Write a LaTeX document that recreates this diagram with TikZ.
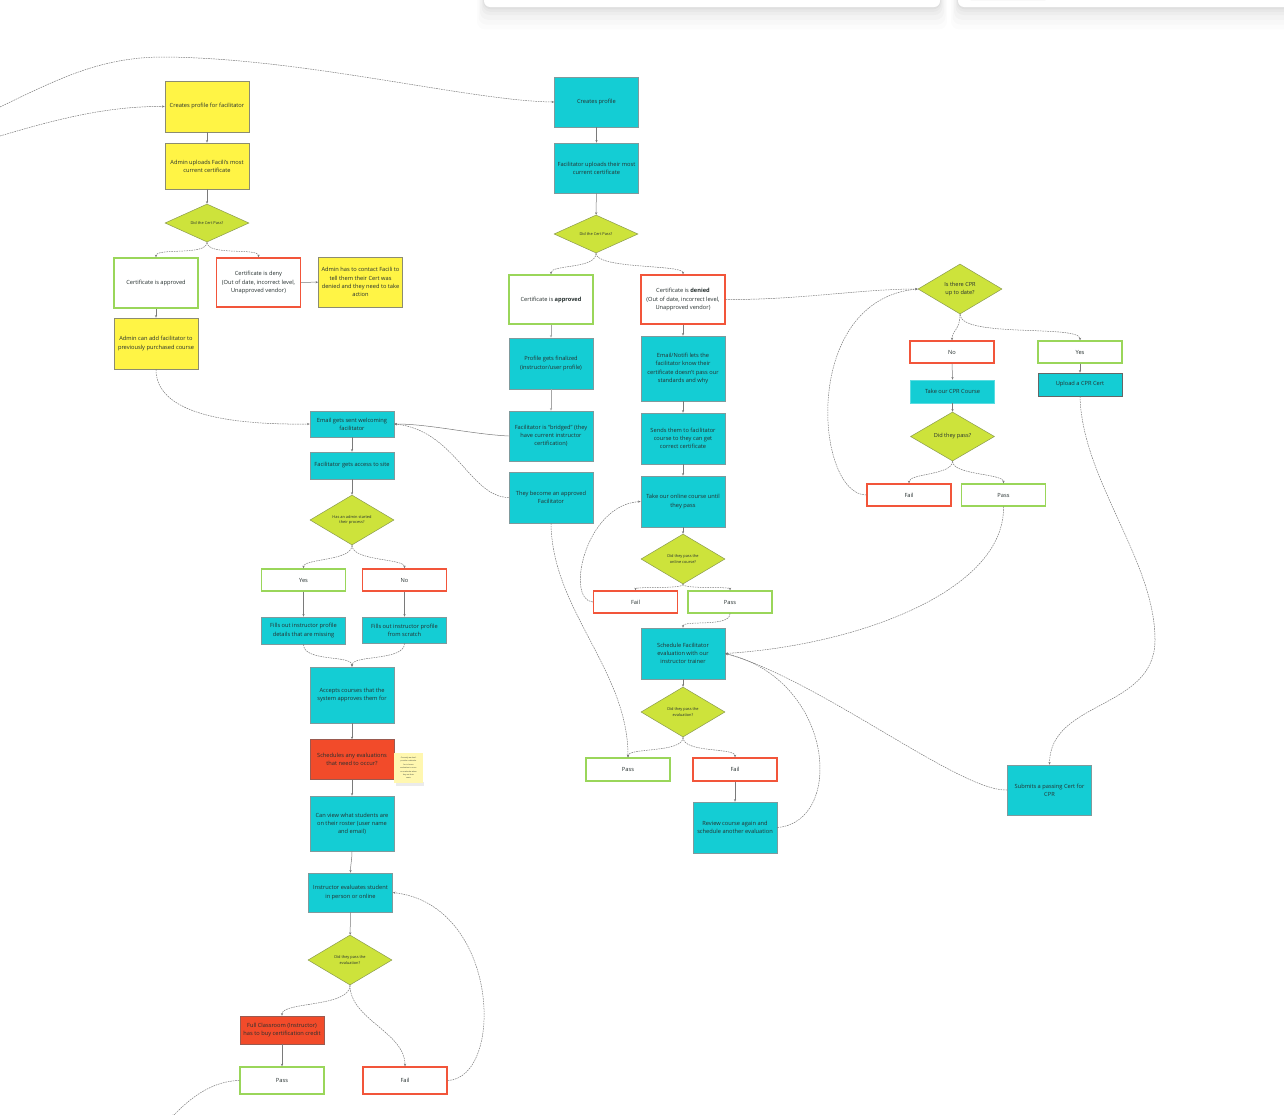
\documentclass[tikz,border=0pt]{standalone}
\usepackage{fontspec}
\setmainfont{Open Sans}
\usetikzlibrary{shapes.geometric,arrows.meta}
\definecolor{ylw}{HTML}{FFF445}
\definecolor{ybd}{HTML}{8C8C70}
\definecolor{cyn}{HTML}{14CDD4}
\definecolor{cbd}{HTML}{7F9A9C}
\definecolor{lim}{HTML}{CDE33B}
\definecolor{dbd}{HTML}{8A9A50}
\definecolor{grn}{HTML}{9AD65A}
\definecolor{redb}{HTML}{F2553A}
\definecolor{org}{HTML}{F24B2A}
\definecolor{obd}{HTML}{9A5A50}
\definecolor{txt}{HTML}{26302F}
\definecolor{lgray}{HTML}{7A7A7A}
\definecolor{note}{HTML}{FFF7B0}
\newcommand\fs{\fontsize{5.7}{8.2}\selectfont}
\newcommand\dfs{\fontsize{3.9}{5.6}\selectfont}
\newcommand\mfs{\fontsize{5.6}{8.1}\selectfont}
\tikzset{
 base/.style={rectangle, minimum width=84pt, inner sep=1pt, align=center, font=\fs, text=txt, line width=0.7pt},
 ybox/.style={base, fill=ylw, draw=ybd},
 cbox/.style={base, fill=cyn, draw=cbd},
 gbox/.style={base, fill=white, draw=grn, line width=1.35pt},
 rbox/.style={base, fill=white, draw=redb, line width=1.35pt},
 obox/.style={base, fill=org, draw=obd},
 dia/.style={diamond, aspect=1.7, inner sep=0pt, minimum width=84pt, minimum height=50pt, fill=lim, draw=dbd, line width=0.5pt, align=center, font=\dfs, text=txt},
 sarr/.style={draw=lgray, line width=0.5pt, -{Stealth[length=2.6pt,width=2.2pt]}},
 darr/.style={sarr, dash pattern=on 1.6pt off 0.9pt},
}
\begin{document}
\begin{tikzpicture}[x=1pt,y=-1pt]
\useasboundingbox (0,0) rectangle (1284,1114);
\fill[white] (0,0) rectangle (1284,1114);
% top panels with soft shadow
\foreach \k/\o in {14/0.012,11/0.015,8/0.018,5/0.022,3/0.025,1.5/0.03}{
 \fill[black,opacity=\o,rounded corners=8pt] (484-\k*0.5,-20) rectangle (940+\k*0.5,7+\k*1.6);
 \fill[black,opacity=\o,rounded corners=8pt] (958-\k*0.5,-20) rectangle (1300,7+\k*1.6);
}
\fill[white,rounded corners=6pt] (484,-20) rectangle (940,7);
\fill[white,rounded corners=6pt] (958,-20) rectangle (1300,7);
\draw[black!6,line width=0.5pt,rounded corners=5pt] (966,-10) -- (966,0) -- (1050,0) -- (1055,-10);

% ---------- left column ----------
\node[ybox, minimum height=51pt] (A1) at (207,106.5) {Creates profile for facilitator};
\node[ybox, minimum height=46pt] (A2) at (207,166) {Admin uploads Facili's most\\current certificate};
\node[dia, minimum height=38pt] (D1) at (207,223) {Did the Cert Pass?};
\node[gbox, minimum height=50pt] (A3) at (156,283) {Certificate is approved};
\node[rbox, minimum height=49pt] (A4) at (258.5,282.5) {Certificate is deny\\(Out of date, incorrect level,\\Unapproved vendor)};
\node[ybox, minimum height=50pt] (A5) at (360.5,282) {Admin has to contact Facili to\\tell them their Cert was\\denied and they need to take\\action};
\node[ybox, minimum height=51pt] (A6) at (156,343.5) {Admin can add facilitator to\\previously purchased course};

% ---------- middle-left column ----------
\node[cbox, minimum height=26pt] (B1) at (352,424) {Email gets sent welcoming\\facilitator};
\node[cbox, minimum height=27pt] (B2) at (352,465.5) {Facilitator gets access to site};
\node[dia] (D2) at (352,520) {Has an admin started\\their process?};
\node[gbox, minimum height=22pt] (B3) at (303.5,580) {Yes};
\node[rbox, minimum height=22pt] (B4) at (404.5,580) {No};
\node[cbox, minimum height=27pt] (B5) at (303.5,630.5) {Fills out instructor profile\\details that are missing};
\node[cbox, minimum height=26pt] (B6) at (404.5,630) {Fills out instructor profile\\from scratch};
\node[cbox, minimum height=56pt] (B7) at (352,695) {Accepts courses that the\\system approves them for};
\node[obox, minimum height=40pt] (B8) at (352,759.5) {Schedules any evaluations\\that need to occur?};
\fill[black,opacity=0.08] (396,782) rectangle (424,786);
\node[rectangle, fill=note, minimum width=29pt, minimum height=30pt, inner sep=0.5pt, align=center, font=\fontsize{1.8}{3.4}\selectfont, text=txt] (N1) at (408.5,768) {Currently we don't\\provide a calendar\\for in house\\evaluation to occur\\on a calendar when\\they set their\\seats};
\node[cbox, minimum height=55pt] (B9) at (352,823.5) {Can view what students are\\on their roster (user name\\and email)};
\node[cbox, minimum height=39pt] (B10) at (350.5,892.5) {Instructor evaluates student\\in person or online};
\node[dia] (D3) at (350,960) {Did they pass the\\evaluation?};
\node[obox, minimum height=28pt] (B11) at (282,1030) {Full Classroom (Instructor)\\has to buy certification credit};
\node[gbox, minimum height=27pt] (B12) at (282,1080.5) {Pass};
\node[rbox, minimum height=27pt] (B13) at (405,1080.5) {Fail};

% ---------- middle column ----------
\node[cbox, minimum height=50pt] (C1) at (596.5,102) {Creates profile};
\node[cbox, minimum height=50pt] (C2) at (596.5,168) {Facilitator uploads their most\\current certificate};
\node[dia, minimum height=38pt] (D4) at (596,234) {Did the Cert Pass?};
\node[gbox, minimum height=49pt] (C3) at (551,299.5) {Certificate is \textbf{approved}};
\node[rbox, minimum height=49pt] (C4) at (683,299.5) {Certificate is \textbf{denied}\\(Out of date, incorrect level,\\Unapproved vendor)};
\node[cbox, minimum height=51pt] (C5) at (551,363.5) {Profile gets finalized\\(instructor/user profile)};
\node[cbox, minimum height=50pt] (C6) at (551,436) {Facilitator is “bridged” (they\\have current instructor\\certification)};
\node[cbox, minimum height=51pt] (C7) at (551,497.5) {They become an approved\\Facilitator};
\node[cbox, minimum height=65pt] (C8) at (683,368.5) {Email/Notifi lets the\\facilitator know their\\certificate doesn't pass our\\standards and why};
\node[cbox, minimum height=51pt] (C9) at (683,438.5) {Sends them to facilitator\\course to they can get\\correct certificate};
\node[cbox, minimum height=51pt] (C10) at (683,501.5) {Take our online course until\\they pass};
\node[dia] (D5) at (683,559) {Did they pass the\\online course?};
\node[rbox, minimum height=22pt] (C11) at (635.5,602) {Fail};
\node[gbox, minimum height=22pt] (C12) at (730,602) {Pass};
\node[cbox, minimum height=51pt] (C13) at (683,653.5) {Schedule Facilitator\\evaluation with our\\instructor trainer};
\node[dia] (D6) at (683,712) {Did they pass the\\evaluation?};
\node[gbox, minimum height=23pt] (C14) at (628,769.5) {Pass};
\node[rbox, minimum height=23pt] (C15) at (735,769.5) {Fail};
\node[cbox, minimum height=51pt] (C16) at (735,827.5) {Review course again and\\schedule another evaluation};

% ---------- right column ----------
\node[dia, font=\mfs] (D7) at (960,289) {Is there CPR\\up to date?};
\node[rbox, minimum height=22pt] (E1) at (952,352) {No};
\node[gbox, minimum height=22pt] (E2) at (1080,352) {Yes};
\node[cbox, draw=cyn!70!white, minimum height=23pt] (E3) at (952.5,391.5) {Take our CPR Course};
\node[cbox, draw=black!60, minimum height=23pt] (E4) at (1080,384.5) {Upload a CPR Cert};
\node[dia, font=\mfs, minimum height=49pt] (D8) at (952.5,436.5) {Did they pass?};
\node[rbox, minimum height=22pt] (E5) at (909,495) {Fail};
\node[gbox, minimum height=22pt] (E6) at (1003.5,495) {Pass};
\node[cbox, minimum height=50pt] (E7) at (1049.5,790) {Submits a passing Cert for\\CPR};

% ---------- free ends ----------
\coordinate (L1) at (0,107);
\coordinate (L2) at (0,136);
\coordinate (L3) at (172,1117);

% ---------- connectors ----------
% solid straight
\draw[sarr] (A1) -- (A2);
\draw[sarr] (A2) -- (D1);
\draw[sarr] (A3) -- (A6);
\draw[sarr] (A4) -- (A5);
\draw[sarr] (B1) -- (B2);
\draw[sarr] (B2) -- (D2);
\draw[sarr] (B3) -- (B5);
\draw[sarr] (B4) -- (B6);
\draw[sarr] (B7) -- (B8);
\draw[sarr] (B8) -- (B9);
\draw[sarr] (B9.south) .. controls +(0,8) and +(0,-8) .. (B10.north);
\draw[sarr] (B10) -- (D3);
\draw[sarr] (B11) -- (B12);
\draw[sarr] (C1) -- (C2);
\draw[sarr] (C2) -- (D4);
\draw[sarr, line width=0.9pt, draw=black!35] (C3) -- (C5);
\draw[sarr, line width=0.9pt, draw=black!35] (C5) -- (C6);
\draw[sarr] (C4) -- (C8);
\draw[sarr] (C8) -- (C9);
\draw[sarr] (C9) -- (C10);
\draw[sarr] (C10) -- (D5);
\draw[sarr] (C13) -- (D6);
\draw[sarr] (C15) -- (C16);
\draw[sarr] (E1.south) .. controls +(0,8) and +(0,-8) .. (E3.north);
\draw[sarr] (E3) -- (D8);
\draw[sarr] (E2) -- (E4);
\draw[sarr] (C6.west) .. controls (470,434) and (430,424) .. (B1.east);

% dashed curves
\draw[darr] (L1) .. controls (60,78) and (100,58) .. (160,57) .. controls (300,57) and (470,101) .. (C1.west);
\draw[darr] (L2) .. controls (60,118) and (110,106) .. (A1.west);
\draw[darr] (D1.south) .. controls +(0,14) and +(0,-10) .. (A3.north);
\draw[darr] (D1.south) .. controls +(0,14) and +(0,-10) .. (A4.north);
\draw[darr] (A6.south) .. controls +(0,45) and (230,425) .. (B1.west);
\draw[darr] (C7.west) .. controls (470,497) and (455,430) .. (B1.east);
\draw[darr] (D2.south) .. controls +(0,16) and +(0,-10) .. (B3.north);
\draw[darr] (D2.south) .. controls +(0,16) and +(0,-10) .. (B4.north);
\draw[darr] (B5.south) .. controls +(0,18) and +(0,-12) .. (B7.north);
\draw[darr] (B6.south) .. controls +(0,18) and +(0,-12) .. (B7.north);
\draw[darr] (D3.south) .. controls +(0,22) and +(0,-14) .. (B11.north);
\draw[darr] (D3.south) .. controls +(0,34) and +(0,-34) .. (B13.north);
\draw[darr] (B13.east) .. controls (505,1078) and (500,905) .. (B10.east);
\draw[darr] (B12.west) .. controls (212,1081) and (190,1098) .. (L3);
\draw[darr] (D4.south) .. controls +(0,16) and +(0,-10) .. (C3.north);
\draw[darr] (D4.south) .. controls +(0,16) and +(0,-10) .. (C4.north);
\draw[darr] (C4.east) .. controls (800,300) and (860,289) .. (D7.west);
\draw[darr] (D7.south) .. controls +(0,16) and +(0,-10) .. (E1.north);
\draw[darr] (D7.south) .. controls +(0,24) and +(0,-16) .. (E2.north);
\draw[darr] (E5.west) .. controls (815,495) and (800,300) .. (D7.west);
\draw[darr] (D8.south) .. controls +(0,14) and +(0,-10) .. (E5.north);
\draw[darr] (D8.south) .. controls +(0,14) and +(0,-10) .. (E6.north);
\draw[darr] (E6.south) .. controls (1005,590) and (860,645) .. (C13.east);
\draw[darr] (E4.south) .. controls (1082,480) and (1155,560) .. (1155,640) .. controls (1155,710) and (1050,700) .. (E7.north);
\draw[darr] (E7.west) .. controls (960,792) and (820,680) .. (C13.east);
\draw[darr] (C16.east) .. controls (845,822) and (835,680) .. (C13.east);
\draw[darr] (D5.south) .. controls +(0,5) and +(0,-4) .. (C11.north);
\draw[darr] (D5.south) .. controls +(0,5) and +(0,-4) .. (C12.north);
\draw[darr] (C11.west) .. controls (565,600) and (585,505) .. (C10.west);
\draw[darr] (C12.south) .. controls +(0,14) and +(0,-8) .. (C13.north);
\draw[darr] (D6.south) .. controls +(0,16) and +(0,-10) .. (C14.north);
\draw[darr] (D6.south) .. controls +(0,16) and +(0,-10) .. (C15.north);
\draw[darr] (C7.south) .. controls (552,610) and (628,670) .. (C14.north);
\end{tikzpicture}
\end{document}
